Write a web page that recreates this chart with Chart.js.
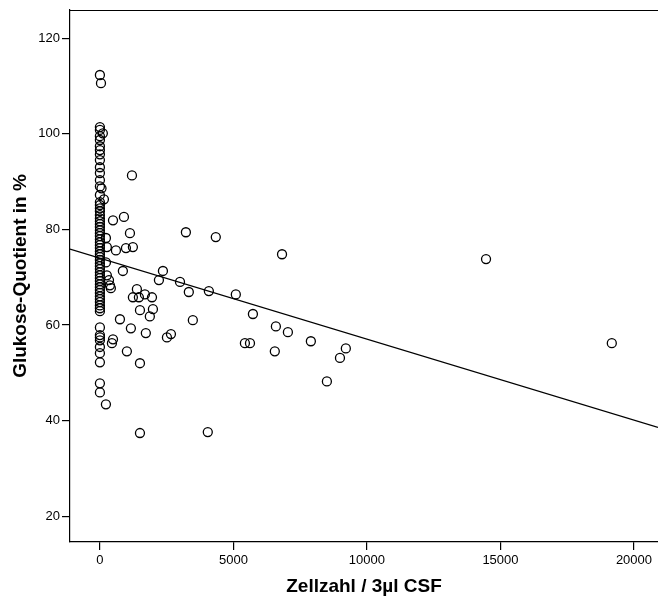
<!DOCTYPE html>
<html>
<head>
<meta charset="utf-8">
<script src="https://cdn.jsdelivr.net/npm/chart.js@4/dist/chart.umd.min.js"></script>
<style>
html,body{margin:0;padding:0;background:#fff;}
#wrap{width:658px;height:599px;}
</style>
</head>
<body>
<div id="wrap"><canvas id="c" width="658" height="599"></canvas></div>
<script>
// Cell count (Zellzahl / 3µl CSF) for each patient
const zellzahl = [
  0,0,0,0,0,0,0,0,0,0,0,0,0,0,0,0,0,0,0,0,
  0,0,0,0,0,0,0,0,0,0,0,0,0,0,0,0,0,0,0,0,
  0,0,0,0,0,0,0,0,0,0,0,0,0,0,0,0,0,0,0,0,
  40,110,60,150,225,260,225,260,340,375,410,490,450,490,225,600,750,860,900,975,
  1010,1160,1200,1125,1235,1235,1385,1460,1500,1500,1500,1685,1720,1870,1950,1985,2210,2360,2510,2660,
  3000,3220,3330,3480,4080,4040,4340,5090,5430,5620,5730,6590,6550,6820,7040,7900,8500,8990,9210,14460,
  19170
];
// Glucose quotient (%) for each patient
const glukoseQuotient = [
  112.3,101.4,100.8,99.5,98.7,97.4,96.6,95.7,94.5,93.0,91.8,90.3,89.0,87.2,85.7,85.1,84.4,83.8,83.0,82.3,
  81.7,81.1,80.5,79.8,79.2,78.6,77.9,77.3,76.7,76.1,75.4,74.8,74.2,73.6,72.9,72.3,71.7,71.0,70.4,69.8,
  69.2,68.5,67.9,67.3,66.7,66.0,65.4,64.8,64.1,63.5,62.9,59.5,57.9,57.4,56.8,55.4,54.1,52.2,47.8,45.9,
  110.6,100.1,88.6,86.3,78.2,76.3,73.1,70.4,69.4,68.3,67.7,81.9,56.2,57.0,43.4,75.6,61.2,71.3,82.6,76.1,
  54.5,59.3,91.3,79.2,76.3,65.8,67.5,65.8,63.1,52.0,37.4,66.4,58.3,61.8,65.8,63.3,69.4,71.3,57.4,58.1,
  69.0,79.4,66.9,61.0,67.1,37.6,78.4,66.4,56.2,56.2,62.3,59.7,54.5,74.8,58.5,56.6,48.2,53.1,55.1,73.8,
  56.2
];
// Linear regression fit
const regIntercept = 74.0;
const regSlope = -0.001694;
// Axis ranges and tick labels
const xRange = [-1120, 20900];
const yRange = [14.6, 125.9];
const xTicks = [0, 5000, 10000, 15000, 20000];
const yTicks = [20, 40, 60, 80, 100, 120];

const points = zellzahl.map((x, i) => ({x: x, y: glukoseQuotient[i]}));
const regLine = xRange.map(x => ({x: x, y: regIntercept + regSlope * x}));

const topBorder = {
  id: 'topBorder',
  afterDraw(chart) {
    const {ctx, chartArea} = chart;
    ctx.save();
    ctx.strokeStyle = '#000';
    ctx.lineWidth = 1.2;
    ctx.beginPath();
    ctx.moveTo(chartArea.left, chartArea.top + 0.5);
    ctx.lineTo(chart.width, chartArea.top + 0.5);
    ctx.stroke();
    ctx.restore();
  }
};

const FONT = 'Liberation Sans, Arial, sans-serif';

new Chart(document.getElementById('c'), {
  type: 'scatter',
  data: {
    datasets: [
      {
        label: 'Glukose-Quotient',
        data: points,
        pointStyle: 'circle',
        pointRadius: 4.5,
        pointHoverRadius: 4.5,
        pointBorderWidth: 1.3,
        borderColor: '#000',
        backgroundColor: 'rgba(0,0,0,0)',
        showLine: false
      },
      {
        type: 'line',
        label: 'Regression',
        data: regLine,
        borderColor: '#000',
        borderWidth: 1.2,
        pointRadius: 0,
        fill: false,
        tension: 0
      }
    ]
  },
  options: {
    responsive: false,
    animation: false,
    devicePixelRatio: 1,
    layout: {autoPadding: false, padding: {top: 10, right: 0, left: 0, bottom: 0}},
    plugins: {legend: {display: false}, tooltip: {enabled: false}},
    scales: {
      x: {
        type: 'linear',
        min: xRange[0],
        max: xRange[1],
        afterBuildTicks: s => { s.ticks = xTicks.map(v => ({value: v})); },
        afterFit: s => { s.height = 57; s.paddingLeft = 0; s.paddingRight = 0; },
        grid: {display: true, drawOnChartArea: false, drawTicks: true, tickLength: 8, color: '#000', lineWidth: 1.2},
        border: {display: true, color: '#000', width: 1.2},
        ticks: {color: '#000', font: {family: FONT, size: 13}, padding: 3, maxRotation: 0, callback: v => String(v)},
        title: {display: true, text: 'Zellzahl / 3µl CSF', color: '#000', font: {family: FONT, size: 19, weight: 'bold'}, padding: {top: 0, bottom: 1}}
      },
      y: {
        type: 'linear',
        min: yRange[0],
        max: yRange[1],
        afterBuildTicks: s => { s.ticks = yTicks.map(v => ({value: v})); },
        afterFit: s => { s.width = 70; s.paddingTop = 0; s.paddingBottom = 0; },
        grid: {display: true, drawOnChartArea: false, drawTicks: true, tickLength: 8, color: '#000', lineWidth: 1.2},
        border: {display: true, color: '#000', width: 1.2},
        ticks: {color: '#000', font: {family: FONT, size: 13}, padding: 2, callback: v => String(v)},
        title: {display: true, text: 'Glukose-Quotient in %', color: '#000', font: {family: FONT, size: 19, weight: 'bold'}, padding: {top: 9, bottom: 0}}
      }
    }
  },
  plugins: [topBorder]
});
</script>
</body>
</html>
